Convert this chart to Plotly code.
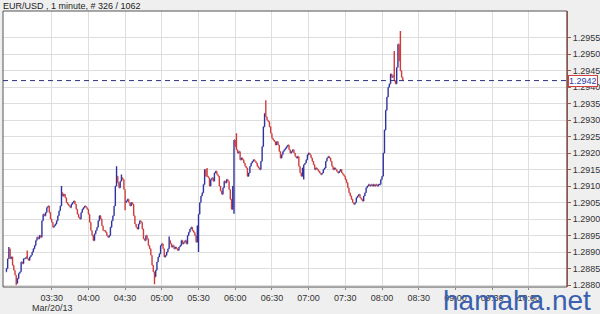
import plotly.graph_objects as go
import pandas as pd

# ---------------- data ----------------
title_text = "EUR/USD , 1 minute, # 326 / 1062"
date_label = "Mar/20/13"
watermark = "hamaha.net"
base_price = 1.2880
start_time = "2013-03-20 02:53"
first_open_pips = 4.0
ref_price = 1.2942

# close of each 1-minute bar, in pips above 1.2880
close_pips = [
    5, 8, 11, 8, 8.5, 6, 4.5, 3, 0.5, 2, 3.5, 4, 7, 6.5, 8, 8, 8.5, 8, 7.5, 8.5,
    9, 10, 11, 12, 13.5, 14.5, 14, 15, 14.5, 19.5, 21.5, 21, 22, 23.5, 24, 22, 20, 19, 17.5, 18,
    18.5, 19.5, 21, 22.5, 24, 28, 27, 27.5, 26.5, 25, 24.5, 24, 23.5, 24.5, 25, 25.5, 24.5, 23, 21.5, 20.5,
    20, 22, 23, 23.5, 24, 23.5, 23, 21.5, 19, 16.5, 15, 13.5, 15.5, 16.5, 17.5, 19.5, 21, 20, 18, 16.5,
    16.5, 16, 15, 14.5, 15, 17.5, 19.5, 21, 24, 30, 33, 31, 29.5, 31.5, 32.5, 32, 29, 25, 25.5, 26,
    25, 24, 25, 24.5, 21, 18.5, 17.5, 17, 18.5, 19.5, 19, 17, 14, 13.5, 15, 14, 12, 11, 9, 6,
    4, 2.5, 4.5, 7, 8.5, 9.5, 12, 12.5, 11, 8.5, 9, 10, 11, 13.5, 12.5, 11.5, 12, 11, 11.5, 11,
    10.5, 11.5, 12, 13.5, 12.5, 13, 13.5, 12.5, 15, 16, 17, 17.5, 16.5, 16, 15, 13, 18, 21.5, 25, 27,
    28, 30.5, 35, 33, 33, 32.5, 30, 32, 32.5, 31.5, 34, 34.5, 33.5, 33, 30, 28.5, 27.5, 29.5, 31.5, 31,
    32, 31.5, 29, 26, 23, 30, 44, 42, 41, 40, 40.5, 38, 38.5, 38, 37, 36, 35.5, 33, 34, 36,
    37, 37.5, 38, 37.5, 37, 36, 35.5, 35, 37.5, 42, 48, 52, 51, 50, 49.5, 48, 46, 44.5, 44, 43.5,
    42.5, 43.5, 42.5, 40.5, 38.5, 39.5, 40.5, 41, 41.5, 42, 42.5, 41, 40, 40.5, 41, 40, 39, 38.5, 39, 36,
    34, 33, 35.5, 36.5, 37, 38, 39.5, 40, 39.5, 38.5, 37.5, 36.5, 35, 35.5, 35, 34.5, 34, 33.5, 34, 35,
    35.5, 37.5, 38.5, 39, 38.5, 37.5, 36, 35, 35.5, 35, 34.5, 34, 34.5, 35, 34, 33.5, 33, 32, 31, 29.5,
    28, 27, 26, 25, 24.5, 25, 26.5, 27, 27.5, 26.5, 26, 25.5, 27, 28, 29.5, 30, 30.5, 30, 30.5, 30,
    30.5, 30, 30.5, 30, 30.5, 30.5, 32, 33, 40, 47, 53, 57, 60, 61, 64, 63, 63.5, 62, 61, 66,
    73, 68, 65, 63, 62,
]

# single-bar spikes (bar index -> pips)
spike_high = {2: 11.5, 17: 10.5, 45: 30, 90: 36, 94: 33.5, 133: 14.7, 164: 35.5,
              188: 46, 212: 56, 317: 71, 322: 77}
spike_low = {8: 0, 97: 22.7, 121: 0.2, 157: 10, 186: 21.6, 243: 32}

y_ticks = [1.2880, 1.2885, 1.2890, 1.2895, 1.2900, 1.2905, 1.2910, 1.2915, 1.2920,
           1.2925, 1.2930, 1.2935, 1.2940, 1.2945, 1.2950, 1.2955]
x_tick_times = ["03:30", "04:00", "04:30", "05:00", "05:30", "06:00", "06:30",
                "07:00", "07:30", "08:00", "08:30", "09:00", "09:30", "10:00"]
x_range = ["2013-03-20 02:50:11", "2013-03-20 10:31:12"]
y_range = [1.28794, 1.29631]

# ---------------- build ----------------
times = pd.date_range(start_time, periods=len(close_pips), freq="1min")
open_pips = [first_open_pips] + close_pips[:-1]
high_pips, low_pips = [], []
for k, (o, c) in enumerate(zip(open_pips, close_pips)):
    h, l = max(o, c), min(o, c)
    if k in spike_high:
        h = max(h, spike_high[k])
    if k in spike_low:
        l = min(l, spike_low[k])
    high_pips.append(h)
    low_pips.append(l)

to_price = lambda arr: [base_price + p / 10000.0 for p in arr]

fig = go.Figure()
fig.add_trace(go.Ohlc(
    x=times,
    open=to_price(open_pips), high=to_price(high_pips),
    low=to_price(low_pips), close=to_price(close_pips),
    increasing=dict(line=dict(color="#2f33a0", width=1.4)),
    decreasing=dict(line=dict(color="#d23a3a", width=1.4)),
    tickwidth=0.45,
    showlegend=False,
))

FONT = "Liberation Sans, Arial, sans-serif"

fig.update_layout(
    width=600, height=314,
    margin=dict(l=3, r=33, t=11, b=27),
    paper_bgcolor="#efefef",
    plot_bgcolor="#ffffff",
    font=dict(family=FONT, size=9, color="#333333"),
    showlegend=False,
    xaxis=dict(
        type="date",
        range=x_range,
        rangeslider=dict(visible=False),
        tickvals=[f"2013-03-20 {t}" for t in x_tick_times],
        ticktext=x_tick_times,
        showgrid=True, gridcolor="#dedede", gridwidth=1,
        zeroline=False,
        showline=False,
        ticks="outside", ticklen=2, tickcolor="#888888",
        tickfont=dict(family=FONT, size=9, color="#333333"),
        automargin=False,
        fixedrange=True,
    ),
    yaxis=dict(
        side="right",
        range=y_range,
        tickvals=y_ticks,
        tickformat=".4f",
        showgrid=True, gridcolor="#dedede", gridwidth=1,
        zeroline=False,
        showline=True, linecolor="#9a5a4c", linewidth=1,
        ticks="outside", ticklen=3, tickcolor="#9a5a4c",
        tickfont=dict(family=FONT, size=9, color="#333333"),
        automargin=False,
        fixedrange=True,
    ),
)

# plot frame
fig.add_shape(type="rect", xref="paper", yref="paper", x0=0, x1=1, y0=0, y1=1,
              line=dict(color="#555555", width=1), fillcolor="rgba(0,0,0,0)", layer="above")
# right axis line redrawn over frame
fig.add_shape(type="line", xref="paper", yref="paper", x0=1, x1=1, y0=0, y1=1,
              line=dict(color="#9a5a4c", width=1), layer="above")
# current price dashed line
fig.add_shape(type="line", xref="paper", yref="y", x0=0, x1=1, y0=ref_price, y1=ref_price,
              line=dict(color="#303080", width=1, dash="5px,4px"), layer="above")

# current price box
fig.add_annotation(xref="paper", yref="y", x=1, y=ref_price, xanchor="left", yanchor="middle",
                   xshift=1, text=f"{ref_price:.4f}", showarrow=False,
                   font=dict(family=FONT, size=9, color="#2b3bb0"),
                   bgcolor="#ffffff", bordercolor="#d04040", borderwidth=1, borderpad=0)
# title
fig.add_annotation(xref="paper", yref="paper", x=-0.003, y=1.0, yshift=5, xanchor="left",
                   yanchor="middle", text=title_text, showarrow=False,
                   font=dict(family=FONT, size=9, color="#222222"))
# date label
fig.add_annotation(xref="paper", yref="paper", x=0.048, y=0, yshift=-21, xanchor="left",
                   yanchor="middle", text=date_label, showarrow=False,
                   font=dict(family=FONT, size=9, color="#333333"))
# watermark (overlaps the late tick labels, as in the reference)
fig.add_annotation(xref="paper", yref="paper", x=1.046, y=0, yshift=-31, xanchor="right",
                   yanchor="bottom", text=watermark, showarrow=False,
                   font=dict(family=FONT, size=28, color="#3a5fae"))

fig.write_html("out.html", config={"displayModeBar": False})
